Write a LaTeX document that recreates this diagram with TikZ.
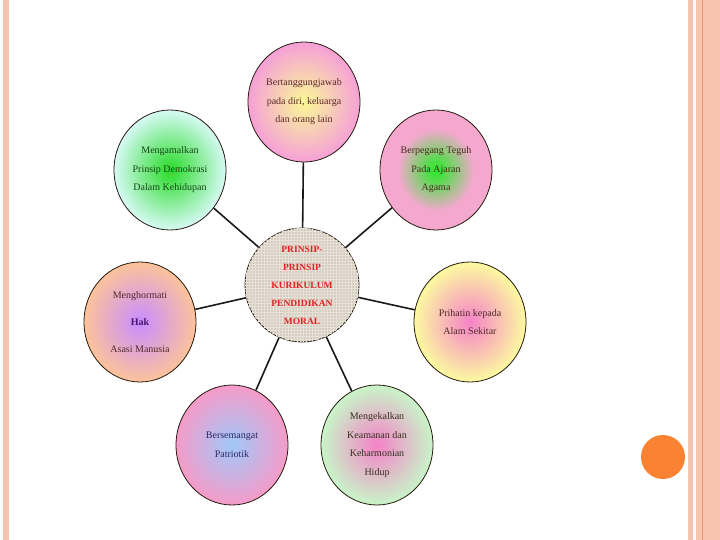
\documentclass[tikz,border=0pt]{standalone}
\usepackage{fontspec}
\setmainfont{Liberation Serif}
\usetikzlibrary{shapes.geometric,patterns}

\definecolor{stripe}{RGB}{247,196,176}
\definecolor{stripeline}{RGB}{236,150,112}
\definecolor{dot}{RGB}{250,130,50}
\definecolor{burlap}{RGB}{214,205,190}
\definecolor{faithin}{RGB}{40,235,40}
\definecolor{faithout}{RGB}{244,168,206}
\pgfdeclareradialshading{faithglow}{\pgfpoint{0bp}{0bp}}{color(0bp)=(faithin); color(4bp)=(faithin!80!faithout); color(17bp)=(faithout); color(50bp)=(faithout)}

\begin{document}
\begin{tikzpicture}[x=1pt, y=-1pt,
    bubble/.style={draw=black!80!brown, line width=0.8pt, ellipse, inner sep=0pt,
        minimum width=112pt, minimum height=120pt, align=center,
        font=\fontsize{10}{18.5}\selectfont},
    link/.style={line width=1.6pt, black!90}]
    \useasboundingbox (0,0) rectangle (720,540);

    % slide frame
    \fill[stripe] (3,0) rectangle (9,540);
    \fill[stripe] (688,0) rectangle (693,540);
    \fill[stripe] (696,0) rectangle (720,540);
    \draw[stripeline, line width=1pt] (702.5,0) -- (702.5,540);
    \fill[dot] (663,457) circle (22);

    % centre
    \node[bubble, minimum width=114pt, minimum height=114pt, fill=burlap,
        postaction={pattern=grid, pattern color=burlap!60!white},
        font=\bfseries\fontsize{9.5}{18}\selectfont, text={rgb,255:red,225;green,35;blue,35}]
        (core) at (302,285) {PRINSIP-\\PRINSIP\\KURIKULUM\\PENDIDIKAN\\MORAL};

    % principles round the centre
    \node[bubble, inner color={rgb,255:red,250;green,248;blue,150}, outer color={rgb,255:red,245;green,160;blue,215},
        text={rgb,255:red,90;green,40;blue,40}]
        (resp) at (304,102) {Bertanggungjawab\\pada diri, keluarga\\dan orang lain};
    \node[bubble, inner color={rgb,255:red,40;green,220;blue,40}, outer color={rgb,255:red,215;green,250;blue,245},
        text={rgb,255:red,20;green,70;blue,20}]
        (demo) at (170,170) {Mengamalkan\\Prinsip Demokrasi\\Dalam Kehidupan};
    \node[bubble, shading=faithglow, text={rgb,255:red,70;green,40;blue,30}]
        (faith) at (436,170) {Berpegang Teguh\\Pada Ajaran\\Agama};
    \node[bubble, inner color={rgb,255:red,200;green,140;blue,255}, outer color={rgb,255:red,252;green,195;blue,155},
        text={rgb,255:red,80;green,40;blue,40}, font=\fontsize{10}{27}\selectfont]
        (rights) at (140,322) {Menghormati\\\textbf{\color[RGB]{70,20,110}Hak}\\Asasi Manusia};
    \node[bubble, inner color={rgb,255:red,245;green,130;blue,200}, outer color={rgb,255:red,252;green,250;blue,160},
        text={rgb,255:red,80;green,40;blue,40}]
        (nature) at (470,322) {Prihatin kepada\\Alam Sekitar};
    \node[bubble, inner color={rgb,255:red,160;green,200;blue,250}, outer color={rgb,255:red,245;green,155;blue,200},
        text={rgb,255:red,40;green,40;blue,100}]
        (patriot) at (232,445) {Bersemangat\\Patriotik};
    \node[bubble, inner color={rgb,255:red,245;green,130;blue,200}, outer color={rgb,255:red,200;green,245;blue,200},
        text={rgb,255:red,50;green,50;blue,30}]
        (peace) at (377,445) {Mengekalkan\\Keamanan dan\\Keharmonian\\Hidup};

    % spokes
    \foreach \n in {resp,demo,faith,rights,nature,patriot,peace}
        \draw[link] (core) -- (\n);
\end{tikzpicture}
\end{document}
